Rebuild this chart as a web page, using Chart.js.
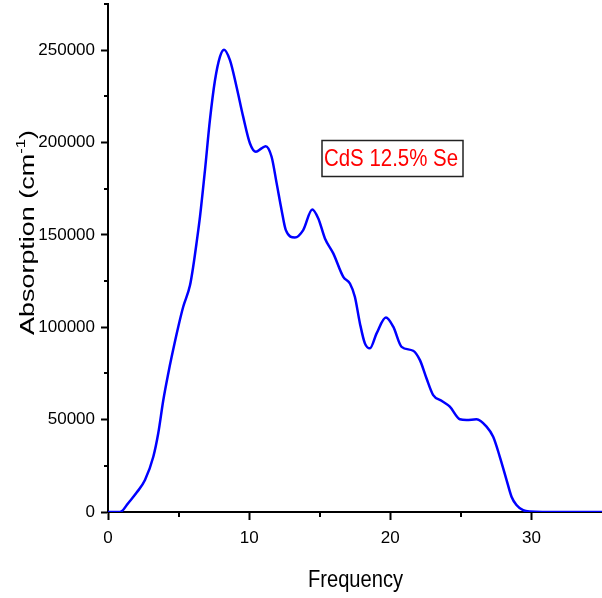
<!DOCTYPE html>
<html>
<head>
    <title>CdS 12.5% Se absorption</title>
    <style>
        body {
            margin: 0;
            padding: 0;
            background-color: #fff;
        }

        canvas {
            display: block;
        }
    </style>
    <script src="https://cdn.jsdelivr.net/npm/chart.js"></script>
</head>
<body>
    <canvas id="absChart" width="602" height="598"></canvas>

    <script>
        // Absorption spectrum values
        const frequency = [0, 0.7, 1.0, 1.4, 2.03, 2.62, 3.21, 3.56, 3.92, 4.27, 4.51, 4.98, 5.33, 5.81, 6.04, 6.28, 6.52,
            6.87, 7.22, 7.58, 7.93, 8.22, 8.64, 9.11, 9.58, 10.06, 10.48, 10.88, 11.17, 11.59, 11.95, 12.3, 12.6,
            13.24, 13.83, 14.47, 14.9, 15.37, 15.96, 16.67, 17.14, 17.49, 17.85, 18.2, 18.56, 19.03, 19.69, 20.21,
            20.8, 21.62, 22.1, 22.57, 23.04, 23.63, 24.22, 24.93, 25.4, 26.11, 26.82, 27.29, 27.76, 28.24, 28.59,
            28.94, 29.41, 29.9, 32, 35];
        const absorption = [0, 0, 600, 4500, 10500, 17300, 29900, 42600, 60600, 75000, 84000, 100300, 111100, 122700, 133000, 146000, 160000,
            185000, 212100, 233700, 246400, 250300, 244600, 230100, 213900, 199500, 195000, 196800, 198000, 192300, 177900, 163400, 152600,
            148600, 152600, 163800, 158900, 148100, 140000, 127300, 123700, 116500, 102100, 91300, 88600, 96700, 105300, 100300,
            89400, 87300, 82200, 72300, 63300, 60200, 57000, 50200, 49800, 50200, 46200, 40700, 29900, 17300, 8300,
            3800, 1000, 300, 0, 0];

        const xTicks = [0, 10, 20, 30];
        const yTicks = [0, 50000, 100000, 150000, 200000, 250000];
        const xMinorTicks = [5, 15, 25];
        const yMinorTicks = [25000, 75000, 125000, 175000, 225000, 275000];

        const sampleLabel = "CdS 12.5% Se";

        const points = frequency.map((f, i) => ({ x: f, y: absorption[i] }));

        // draws a string squeezed/stretched so it spans a given width
        function fitText(ctx, text, x, y, font, width) {
            ctx.font = font;
            const w = ctx.measureText(text).width;
            ctx.save();
            ctx.translate(x, y);
            ctx.scale(width / w, 1);
            ctx.fillText(text, 0, 0);
            ctx.restore();
        }

        const decorations = {
            id: "decorations",
            afterDraw(chart) {
                const ctx = chart.ctx;
                const xs = chart.scales.x;
                const ys = chart.scales.y;

                // minor ticks
                ctx.save();
                ctx.strokeStyle = "#000";
                ctx.lineWidth = 2;
                ctx.beginPath();
                xMinorTicks.forEach(v => {
                    const px = Math.round(xs.getPixelForValue(v));
                    ctx.moveTo(px, ys.bottom);
                    ctx.lineTo(px, ys.bottom + 5);
                });
                yMinorTicks.forEach(v => {
                    const py = Math.round(ys.getPixelForValue(v));
                    ctx.moveTo(xs.left, py);
                    ctx.lineTo(xs.left - 4, py);
                });
                ctx.stroke();

                // x axis title
                ctx.fillStyle = "#000";
                ctx.textBaseline = "alphabetic";
                ctx.textAlign = "left";
                fitText(ctx, "Frequency", 308, 587, "24px 'Liberation Sans', Arial", 95);

                // y axis title with superscript
                ctx.save();
                ctx.translate(34, 335);
                ctx.rotate(-Math.PI / 2);
                const mainFont = "21px 'Liberation Sans', Arial";
                const supFont = "13px 'Liberation Sans', Arial";
                ctx.font = mainFont;
                const a = ctx.measureText("Absorption (cm").width;
                const c = ctx.measureText(")").width;
                ctx.font = supFont;
                const b = ctx.measureText("-1").width;
                const k = 205 / (a + b + c);
                ctx.scale(k, 1);
                ctx.font = mainFont;
                ctx.fillText("Absorption (cm", 0, 0);
                ctx.font = supFont;
                ctx.fillText("-1", a, -9);
                ctx.font = mainFont;
                ctx.fillText(")", a + b, 0);
                ctx.restore();

                // sample label box
                ctx.strokeStyle = "#222";
                ctx.lineWidth = 1.5;
                ctx.strokeRect(322, 140.5, 141, 36);
                ctx.fillStyle = "#ff0000";
                fitText(ctx, sampleLabel, 324, 166, "24px 'Liberation Sans', Arial", 134);
                ctx.restore();
            }
        };

        const ctx = document.getElementById("absChart").getContext("2d");

        new Chart(ctx, {
            type: "line",
            data: {
                datasets: [{
                    label: sampleLabel,
                    data: points,
                    borderColor: "#0000ff",
                    borderWidth: 2.5,
                    pointRadius: 0,
                    fill: false,
                    cubicInterpolationMode: "monotone"
                }]
            },
            options: {
                responsive: false,
                animation: false,
                layout: {
                    padding: { top: 4, right: 0, left: 0, bottom: 0 }
                },
                plugins: {
                    legend: { display: false },
                    tooltip: { enabled: false }
                },
                scales: {
                    x: {
                        type: "linear",
                        min: 0,
                        max: 35,
                        afterBuildTicks: scale => {
                            scale.ticks = xTicks.map(v => ({ value: v }));
                        },
                        afterFit: scale => {
                            scale.height = 86;
                            scale.paddingLeft = 0;
                            scale.paddingRight = 0;
                        },
                        border: { display: true, color: "#000", width: 2 },
                        grid: {
                            drawOnChartArea: false,
                            drawTicks: true,
                            tickLength: 8,
                            tickWidth: 2,
                            tickColor: "#000"
                        },
                        ticks: {
                            color: "#000",
                            padding: 8,
                            maxRotation: 0,
                            callback: v => String(v),
                            font: { family: "'Liberation Sans', Arial", size: 17 }
                        }
                    },
                    y: {
                        min: 0,
                        max: 275000,
                        afterBuildTicks: scale => {
                            scale.ticks = yTicks.map(v => ({ value: v }));
                        },
                        afterFit: scale => {
                            scale.width = 108;
                            scale.paddingTop = 0;
                            scale.paddingBottom = 0;
                        },
                        border: { display: true, color: "#000", width: 2 },
                        grid: {
                            drawOnChartArea: false,
                            drawTicks: true,
                            tickLength: 7,
                            tickWidth: 2,
                            tickColor: "#000"
                        },
                        ticks: {
                            color: "#000",
                            padding: 6,
                            callback: v => String(v),
                            font: { family: "'Liberation Sans', Arial", size: 17 }
                        }
                    }
                }
            },
            plugins: [decorations]
        });
    </script>
</body>
</html>
